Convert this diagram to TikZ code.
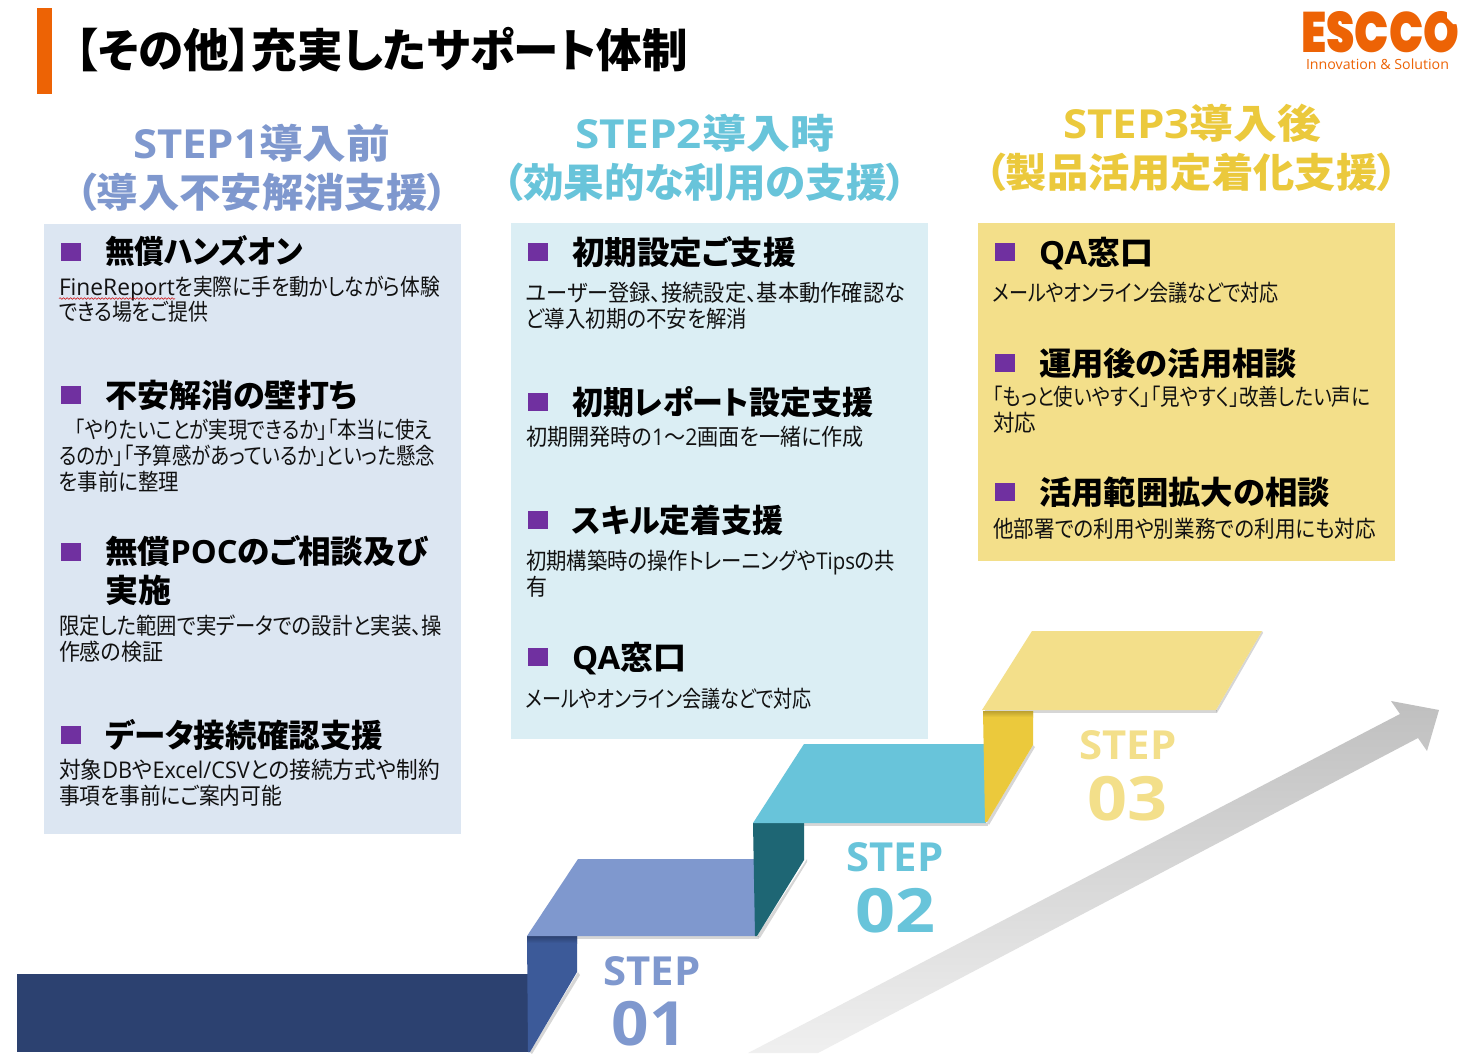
\documentclass[tikz,border=0pt]{standalone}
\usepackage{fontspec}
\usepackage{graphicx}
\usetikzlibrary{decorations.pathmorphing}
\setmainfont[RawFeature=+palt]{Noto Sans CJK JP}
\newfontfamily\numfont{Open Sans}
\newfontfamily\logofont[BoldFont=Poppins Black]{Poppins}
\newcommand\la[1]{{\numfont #1}}
\definecolor{esorange}{HTML}{ED6305}
\definecolor{txt}{HTML}{111111}
\definecolor{boxa}{HTML}{DCE6F2}
\definecolor{boxb}{HTML}{DBEEF4}
\definecolor{boxc}{HTML}{F3DF8A}
\definecolor{purp}{HTML}{7030A0}
\definecolor{sa}{HTML}{7F98CE}
\definecolor{sb}{HTML}{68C4DA}
\definecolor{sc}{HTML}{EBC93C}
\definecolor{scl}{HTML}{F3DF8A}
\definecolor{navy}{HTML}{2C4170}
\definecolor{risea}{HTML}{3C5A99}
\definecolor{riseb}{HTML}{1E6674}
\tikzset{
  x=1pt,y=-1pt,
  linetext/.style={anchor=base west,inner sep=0pt,outer sep=0pt},
  bodyline/.style={linetext,text=txt,font=\fontsize{23}{23}\selectfont},
  headline/.style={linetext,text=black,font=\fontsize{32}{32}\selectfont\bfseries},
  titleline/.style={linetext,font=\fontsize{40}{40}\selectfont\bfseries},
  bullet/.style={fill=purp,draw=none},
  shadowp/.style={fill=black,opacity=.16,draw=none},
  numa/.style={anchor=base,inner sep=0pt,font=\numfont\bfseries\fontsize{40}{40}\selectfont},
  numb/.style={anchor=base,inner sep=0pt,font=\numfont\bfseries\fontsize{61}{61}\selectfont},
}
\newcommand\BL[5]{\node[bodyline] (#1) at (#2,#4+8) {\resizebox{\dimexpr #3pt-#2pt\relax}{\height}{#5}};}
\newcommand\HL[5]{\node[headline] (#1) at (#2,#4+12) {\resizebox{\dimexpr #3pt-#2pt\relax}{\height}{#5}};}
\newcommand\BU[2]{\fill[bullet] (#1,#2-9) rectangle (#1+20,#2+9);}
\begin{document}
\begin{tikzpicture}
\useasboundingbox (0,0) rectangle (1462,1053);
\fill[white] (0,0) rectangle (1462,1053);
% header
\fill[esorange] (37,8) rectangle (52,94);
\node[linetext,text=black,font=\fontsize{46}{46}\selectfont\bfseries] (title) at (75,67) {\resizebox{613pt}{\height}{【その他】充実したサポート体制}};
% logo
\node[anchor=base west,inner sep=0pt,text=esorange,font=\logofont\bfseries\fontsize{57}{57}\selectfont] (logo) at (1301,52) {\resizebox{158pt}{\height}{ESCCO}};
\fill[white] (1447,9) -- (1462,9) -- (1462,24) -- (1453,24) -- (1447,18) -- cycle;
\node[linetext,text=esorange,font=\numfont\fontsize{14}{14}\selectfont] (logosub) at (1306,69) {\resizebox{143pt}{\height}{Innovation \& Solution}};
% column titles
\node[titleline,text=sa] (t1a) at (133,158) {\resizebox{257pt}{\height}{\la{STEP1}導入前}};
\node[titleline,text=sa] (t1b) at (76,207) {\resizebox{372pt}{\height}{（導入不安解消支援）}};
\node[titleline,text=sb] (t2a) at (575,148) {\resizebox{259pt}{\height}{\la{STEP2}導入時}};
\node[titleline,text=sb] (t2b) at (503,197) {\resizebox{404pt}{\height}{（効果的な利用の支援）}};
\node[titleline,text=sc] (t3a) at (1063,138) {\resizebox{258pt}{\height}{\la{STEP3}導入後}};
\node[titleline,text=sc] (t3b) at (985,187) {\resizebox{413pt}{\height}{（製品活用定着化支援）}};
% boxes
\fill[boxa] (44,224) rectangle (461,834);
\fill[boxb] (511,223) rectangle (928,739);
\fill[boxc] (978,223) rectangle (1395,561);
% column 1
\BU{61}{252}\HL{h11}{105}{303}{251}{無償ハンズオン}
\BL{b11a}{59}{175}{287}{\la{FineReport}}
\BL{b11}{175}{440}{287}{を実際に手を動かしながら体験}
\BL{b12}{59}{208}{312}{できる場をご提供}
\draw[red!80!black,line width=.5pt,decorate,decoration={snake,amplitude=.8pt,segment length=3.5pt}] (59,298.5) -- (175,298.5);
\BU{61}{395}\HL{h12}{105}{357}{395}{不安解消の壁打ち}
\BL{b13}{75}{432}{430}{「やりたいことが実現できるか」「本当に使え}
\BL{b14}{59}{435}{456}{るのか」「予算感があっているか」といった懸念}
\BL{b15}{59}{179}{482}{を事前に整理}
\BU{61}{552}\HL{h13}{105}{428}{551}{無償\la{POC}のご相談及び}
\HL{h14}{105}{171}{590}{実施}
\BL{b16}{59}{442}{626}{限定した範囲で実データでの設計と実装、操}
\BL{b17}{59}{163}{652}{作感の検証}
\BU{61}{735}\HL{h15}{105}{383}{735}{データ接続確認支援}
\BL{b18}{59}{440}{770}{対象\la{DB}や\la{Excel/CSV}との接続方式や制約}
\BL{b19}{59}{282}{796}{事項を事前にご案内可能}
% column 2
\BU{528}{252}\HL{h21}{572}{796}{252}{初期設定ご支援}
\BL{b21}{526}{905}{293}{ユーザー登録、接続設定、基本動作確認な}
\BL{b22}{526}{747}{319}{ど導入初期の不安を解消}
\BU{528}{402}\HL{h22}{572}{873}{402}{初期レポート設定支援}
\BL{b23}{526}{864}{437}{初期開発時の\la{1}～\la{2}画面を一緒に作成}
\BU{528}{520}\HL{h23}{572}{783}{520}{スキル定着支援}
\BL{b24}{526}{895}{561}{初期構築時の操作トレーニングや\la{Tips}の共}
\BL{b25}{526}{547}{587}{有}
\BU{528}{657}\HL{h24}{572}{686}{657}{\la{QA}窓口}
\BL{b26}{526}{812}{699}{メールやオンライン会議などで対応}
% column 3
\BU{995}{252}\HL{h31}{1039}{1153}{252}{\la{QA}窓口}
\BL{b31}{993}{1279}{293}{メールやオンライン会議などで対応}
\BU{995}{363}\HL{h32}{1039}{1297}{363}{運用後の活用相談}
\BL{b32}{993}{1370}{397}{「もっと使いやすく」「見やすく」改善したい声に}
\BL{b33}{993}{1036}{423}{対応}
\BU{995}{492}\HL{h33}{1039}{1330}{492}{活用範囲拡大の相談}
\BL{b34}{993}{1376}{529}{他部署での利用や別業務での利用にも対応}
% arrow
\shade[left color=black!25,right color=black!6,shading angle=0]
  (748,1053) -- (1400,714) -- (1391,701) -- (1439,710) -- (1427,751) -- (1418,738) -- (818,1053) -- cycle;
% shadows
\fill[shadowp] (532,1054) -- (580,975) -- (578,972) -- (530,1052) -- cycle;
\fill[shadowp] (530,936) -- (759,936) -- (759,939) -- (530,939) -- cycle;
\fill[shadowp] (760,938) -- (807,862) -- (807,859) -- (757,936) -- cycle;
\fill[shadowp] (756,823) -- (988,823) -- (988,826) -- (756,826) -- cycle;
\fill[shadowp] (989,825) -- (1035,747) -- (1033,745) -- (987,822) -- cycle;
\fill[shadowp] (985,710) -- (1217,710) -- (1217,713) -- (985,713) -- cycle;
\fill[shadowp] (1217,713) -- (1263,633) -- (1262,631) -- (1216,710) -- cycle;
% base
\fill[navy] (17,974) rectangle (528,1052);
% riser 1
\fill[risea] (527,936) -- (577,936) -- (577,972) -- (530,1052) -- (528,1052) -- cycle;
\shade[top color=navy,bottom color=risea] (527,936) rectangle (577,943);
% tread 1
\fill[sa] (527,936) -- (578,859) -- (759,859) -- (756,936) -- cycle;
% riser 2
\fill[riseb] (753,823) -- (804,823) -- (804,860) -- (757,936) -- (755,936) -- cycle;
% tread 2
\fill[sb] (753,823) -- (804,744) -- (987,744) -- (986,823) -- cycle;
% riser 3
\fill[sc] (983,711) -- (1033,711) -- (1033,745) -- (987,822) -- (985,822) -- cycle;
\shade[top color=sc!80!black,bottom color=sc] (983,711) rectangle (1033,717);
% tread 3
\fill[scl] (982,710) -- (1032,631) -- (1262,631) -- (1216,710) -- cycle;
% step labels
\node[numa,text=sa] (s1) at (652,985) {\resizebox{97pt}{\height}{STEP}};
\node[numb,text=sa] (n1) at (649,1045) {\resizebox{75pt}{\height}{01}};
\node[numa,text=sb] (s2) at (895,871) {\resizebox{97pt}{\height}{STEP}};
\node[numb,text=sb] (n2) at (895,932) {\resizebox{80pt}{\height}{02}};
\node[numa,text=scl] (s3) at (1128,759) {\resizebox{97pt}{\height}{STEP}};
\node[numb,text=scl] (n3) at (1127,820) {\resizebox{80pt}{\height}{03}};
\end{tikzpicture}
\end{document}
